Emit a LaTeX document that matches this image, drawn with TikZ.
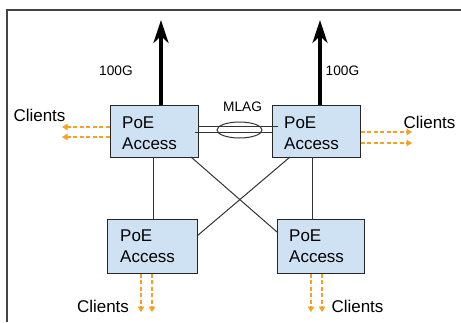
\documentclass[tikz,border=0pt]{standalone}
\usepackage{fontspec}
\setmainfont{Liberation Sans}
\usetikzlibrary{arrows.meta}
\definecolor{boxfill}{HTML}{CFE2F3}
\definecolor{orng}{HTML}{F7A021}
\definecolor{frame}{HTML}{444444}
\begin{document}
\begin{tikzpicture}[x=1pt,y=-1pt,
  switchbox/.style={draw=black!85,line width=1pt,fill=boxfill,minimum width=88pt,minimum height=52pt,inner sep=0pt},
  boxtxt/.style={font=\fontsize{17}{21}\selectfont,align=left,anchor=north west,inner sep=0pt},
  lbl/.style={font=\fontsize{17}{20}\selectfont,inner sep=0pt},
  small/.style={font=\fontsize{13.7}{16}\selectfont,inner sep=0pt},
  uplink/.style={line width=3.5pt,-{Stealth[length=23pt,width=15pt,inset=7pt]}},
  client/.style={orng,line width=1.2pt,dash pattern=on 4pt off 2.5pt,-{Triangle[length=5.5pt,width=6.5pt]}},
  link/.style={draw=black!80,line width=1pt}]
\useasboundingbox (0,0) rectangle (461,322);
\draw[frame,line width=1.5pt] (7,322) -- (7,10) -- (461,10);
% boxes
\node[switchbox] (tl) at (154,131) {};
\node[switchbox] (tr) at (316,131) {};
\node[switchbox,minimum width=90pt,minimum height=54pt] (bl) at (152,246) {};
\node[switchbox,minimum width=87pt,minimum height=54pt] (br) at (320.5,246) {};
\node[boxtxt] at (122,117) {PoE\\Access};
\node[boxtxt] at (284,117) {PoE\\Access};
\node[boxtxt] at (120,230) {PoE\\Access};
\node[boxtxt] at (289,230) {PoE\\Access};
% uplinks
\coordinate (ul) at (161,20);
\coordinate (ur) at (320,20);
\draw[uplink] (tl.north -| ul) -- (ul);
\draw[uplink] (tr.north -| ur) -- (ur);
\node[small] (g1) at (116,71) {100G};
\node[small] (g2) at (342.5,71) {100G};
% MLAG
\coordinate (m1) at (278,126);
\coordinate (m2) at (195,132);
\draw[link] (tl.east |- m1) -- (m1);
\draw[link] (m2) -- (tr.west |- m2);
\draw[link] (239.5,130) ellipse (22.5pt and 8pt);
\node[small] (mlag) at (242.5,107) {MLAG};
% links between switches
\coordinate (a1) at (153,157);
\coordinate (a2) at (312,157);
\draw[link] (a1) -- (bl.north -| a1);
\draw[link] (a2) -- (br.north -| a2);
\coordinate (c1) at (191,157);
\coordinate (c2) at (277,232);
\coordinate (c3) at (290,157);
\coordinate (c4) at (197,236);
\draw[link] (c1) -- (c2);
\draw[link] (c3) -- (c4);
% clients
\coordinate (k1) at (62,127);
\coordinate (k2) at (62,137);
\draw[client] (tl.west |- k1) -- (k1);
\draw[client] (tl.west |- k2) -- (k2);
\coordinate (k3) at (412,132);
\coordinate (k4) at (412,143);
\draw[client] (tr.east |- k3) -- (k3);
\draw[client] (tr.east |- k4) -- (k4);
\coordinate (k5) at (141,312);
\coordinate (k6) at (152,312);
\draw[client] (bl.south -| k5) -- (k5);
\draw[client] (bl.south -| k6) -- (k6);
\coordinate (k7) at (311,312);
\coordinate (k8) at (322,312);
\draw[client] (br.south -| k7) -- (k7);
\draw[client] (br.south -| k8) -- (k8);
\node[lbl] (cl1) at (39.5,115) {Clients};
\node[lbl] (cl2) at (429.5,122) {Clients};
\node[lbl] (cl3) at (103,306) {Clients};
\node[lbl] (cl4) at (357.5,306) {Clients};
\end{tikzpicture}
\end{document}
